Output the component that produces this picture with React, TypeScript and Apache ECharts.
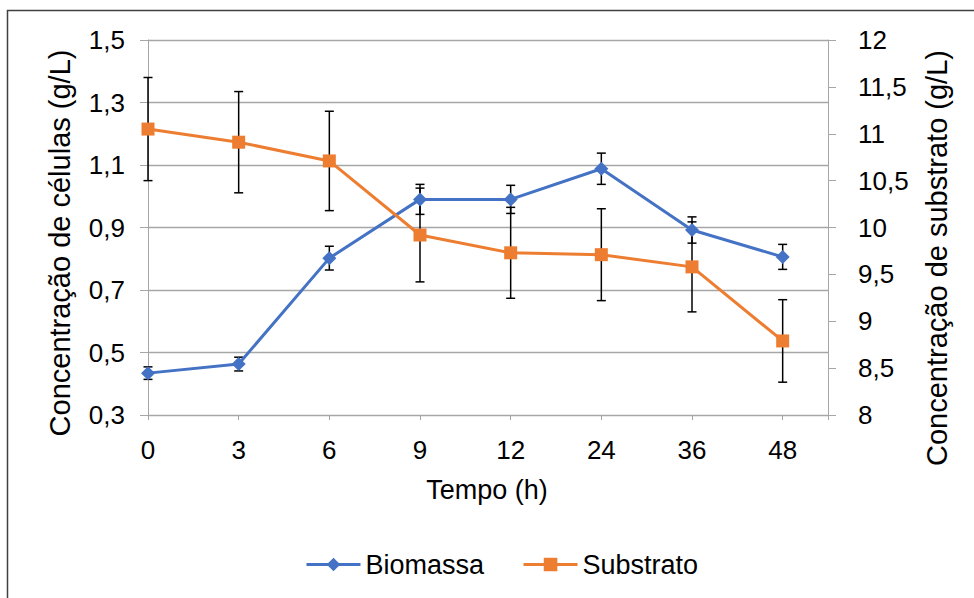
import React, { useEffect, useRef } from "react";
import * as echarts from "echarts";

const categories = ["0", "3", "6", "9", "12", "24", "36", "48"];
const biomassa = [0.434, 0.463, 0.802, 0.99, 0.99, 1.088, 0.892, 0.806];
const biomassaErr = [0.02, 0.022, 0.038, 0.048, 0.045, 0.05, 0.042, 0.04];
const substrato = [11.05, 10.91, 10.71, 9.92, 9.73, 9.71, 9.58, 8.79];
const substratoErr = [0.55, 0.54, 0.53, 0.5, 0.485, 0.49, 0.48, 0.44];

const leftTitle = "Concentração de células (g/L)";
const rightTitle = "Concentração de substrato (g/L)";
const xTitle = "Tempo (h)";

const FONT = "'Liberation Sans', Arial, sans-serif";
const BLUE = "#4472C4";
const ORANGE = "#ED7D31";
const GRID = "#a6a6a6";

function errorRender(params: any, api: any) {
  const x = api.value(0);
  const y = api.value(1);
  const e = api.value(2);
  const hi = api.coord([x, y + e]);
  const lo = api.coord([x, y - e]);
  const cap = 4.5;
  const style = { stroke: "#000", lineWidth: 1.5 };
  return {
    type: "group",
    children: [
      { type: "line", shape: { x1: hi[0], y1: hi[1], x2: lo[0], y2: lo[1] }, style },
      { type: "line", shape: { x1: hi[0] - cap, y1: hi[1], x2: hi[0] + cap, y2: hi[1] }, style },
      { type: "line", shape: { x1: lo[0] - cap, y1: lo[1], x2: lo[0] + cap, y2: lo[1] }, style },
    ],
  };
}

export default function App() {
  const ref = useRef<HTMLDivElement>(null);
  useEffect(() => {
    if (!ref.current) return;
    const chart = echarts.init(ref.current, null, { renderer: "svg" });
    const fmtComma = (v: number) =>
      String(Math.round(v * 10) / 10).replace(".", ",");
    chart.setOption({
      animation: false,
      backgroundColor: "#fff",
      textStyle: { fontFamily: FONT },
      grid: { left: 148, right: 146, top: 40, bottom: 183, containLabel: false },
      legend: {
        data: ["Biomassa", "Substrato"],
        left: 300,
        top: 546,
        itemWidth: 54,
        itemHeight: 17,
        itemGap: 38,
        lineStyle: { width: 3 },
        textStyle: { fontSize: 27, color: "#000", fontFamily: FONT },
      },
      xAxis: {
        type: "value",
        min: 0,
        max: 7.5,
        interval: 1,
        axisLine: { show: true, lineStyle: { color: GRID, width: 1 } },
        axisTick: { show: true, length: 5, lineStyle: { color: GRID } },
        splitLine: { show: false },
        axisLabel: {
          margin: 22,
          fontSize: 26,
          color: "#000",
          fontFamily: FONT,
          formatter: (v: number) =>
            Number.isInteger(v) && categories[v] !== undefined ? categories[v] : "",
        },
      },
      yAxis: [
        {
          type: "value",
          min: 0.3,
          max: 1.5,
          interval: 0.2,
          position: "left",
          axisLine: { show: true, lineStyle: { color: GRID, width: 1 } },
          axisTick: { show: true, length: 8, lineStyle: { color: GRID } },
          splitLine: { show: true, lineStyle: { color: GRID, width: 1.3 } },
          axisLabel: {
            margin: 23,
            fontSize: 26,
            color: "#000",
            fontFamily: FONT,
            formatter: (v: number) => (Math.round(v * 10) / 10).toFixed(1).replace(".", ","),
          },
        },
        {
          type: "value",
          min: 8,
          max: 12,
          interval: 0.5,
          position: "right",
          axisLine: { show: true, lineStyle: { color: GRID, width: 1 } },
          axisTick: { show: true, length: 8, lineStyle: { color: GRID } },
          splitLine: { show: false },
          axisLabel: {
            margin: 30,
            fontSize: 26,
            color: "#000",
            fontFamily: FONT,
            formatter: fmtComma,
          },
        },
      ],
      graphic: [
        {
          type: "rect",
          shape: { x: 7.5, y: 10.5, width: 1200, height: 1000 },
          style: { fill: "none", stroke: "#404040", lineWidth: 1.5 },
          silent: true,
          z: -10,
        },
        {
          type: "text",
          x: 60,
          y: 243,
          rotation: Math.PI / 2,
          style: {
            text: leftTitle,
            font: `29px ${FONT}`,
            fill: "#000",
            align: "center",
            verticalAlign: "middle",
          },
        },
        {
          type: "text",
          x: 937,
          y: 258,
          rotation: Math.PI / 2,
          style: {
            text: rightTitle,
            font: `29px ${FONT}`,
            fill: "#000",
            align: "center",
            verticalAlign: "middle",
          },
        },
        {
          type: "text",
          x: 487,
          y: 490,
          style: {
            text: xTitle,
            font: `27px ${FONT}`,
            fill: "#000",
            align: "center",
            verticalAlign: "middle",
          },
        },
      ],
      series: [
        {
          type: "custom",
          name: "errB",
          xAxisIndex: 0,
          yAxisIndex: 0,
          renderItem: errorRender,
          encode: { x: 0, y: 1 },
          data: biomassa.map((v, i) => [i, v, biomassaErr[i]]),
          z: 1,
          silent: true,
        },
        {
          type: "custom",
          name: "errS",
          xAxisIndex: 0,
          yAxisIndex: 1,
          renderItem: errorRender,
          encode: { x: 0, y: 1 },
          data: substrato.map((v, i) => [i, v, substratoErr[i]]),
          z: 1,
          silent: true,
        },
        {
          type: "line",
          name: "Biomassa",
          xAxisIndex: 0,
          yAxisIndex: 0,
          data: biomassa.map((v, i) => [i, v]),
          symbol: "diamond",
          symbolSize: 14,
          lineStyle: { color: BLUE, width: 3 },
          itemStyle: { color: BLUE },
          z: 3,
        },
        {
          type: "line",
          name: "Substrato",
          xAxisIndex: 0,
          yAxisIndex: 1,
          data: substrato.map((v, i) => [i, v]),
          symbol: "rect",
          symbolSize: 13,
          lineStyle: { color: ORANGE, width: 3 },
          itemStyle: { color: ORANGE },
          z: 4,
        },
      ],
    });
    return () => chart.dispose();
  }, []);
  return (
    <div
      ref={ref}
      style={{ position: "fixed", left: 0, top: 0, width: 974, height: 598 }}
    />
  );
}
